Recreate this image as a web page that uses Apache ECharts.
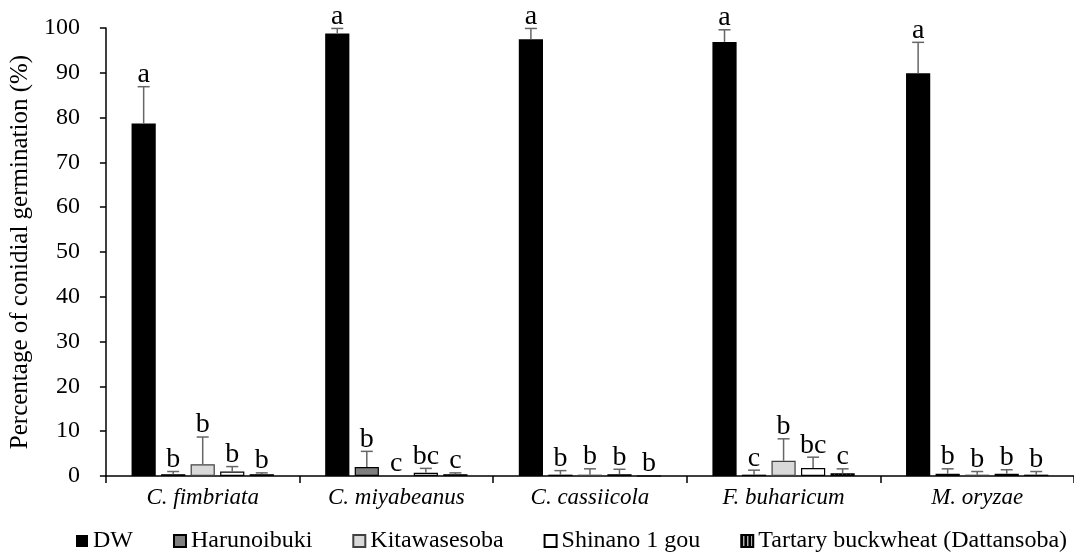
<!DOCTYPE html>
<html>
<head>
<meta charset="utf-8">
<script src="https://cdn.jsdelivr.net/npm/echarts@6/dist/echarts.min.js"></script>
<style>html,body{margin:0;padding:0;background:#fff;}#c{width:1074px;height:556px;}</style>
</head>
<body>
<div id="c"></div>
<script>
const categories = ['C. fimbriata', 'C. miyabeanus', 'C. cassiicola', 'F. buharicum', 'M. oryzae'];
const seriesNames = ['DW', 'Harunoibuki', 'Kitawasesoba', 'Shinano 1 gou', 'Tartary buckwheat (Dattansoba)'];
const yTicks = [0, 10, 20, 30, 40, 50, 60, 70, 80, 90, 100];

const dwValues = [78.7, 98.8, 97.5, 96.9, 89.9];
const dwErrors = [8.2, 1.1, 2.4, 2.7, 6.9];
const dwLetters = ['a', 'a', 'a', 'a', 'a'];

const harunoibukiValues = [0.4, 2.0, 0.3, 0.3, 0.5];
const harunoibukiErrors = [0.6, 3.5, 0.9, 1.0, 1.1];
const harunoibukiLetters = ['b', 'b', 'b', 'c', 'b'];

const kitawasesobaValues = [2.6, 0, 0.3, 3.4, 0.3];
const kitawasesobaErrors = [6.1, 0, 1.3, 4.9, 0.7];
const kitawasesobaLetters = ['b', 'c', 'b', 'b', 'b'];

const shinanoValues = [1.0, 0.7, 0.4, 1.8, 0.5];
const shinanoErrors = [1.1, 1.0, 1.1, 2.4, 0.9];
const shinanoLetters = ['b', 'bc', 'b', 'bc', 'b'];

const tartaryValues = [0.4, 0.4, 0, 0.6, 0.3];
const tartaryErrors = [0.3, 0.3, 0, 1.0, 0.7];
const tartaryLetters = ['b', 'c', 'b', 'c', 'b'];

const allValues = [dwValues, harunoibukiValues, kitawasesobaValues, shinanoValues, tartaryValues];
const allErrors = [dwErrors, harunoibukiErrors, kitawasesobaErrors, shinanoErrors, tartaryErrors];
const allLetters = [dwLetters, harunoibukiLetters, kitawasesobaLetters, shinanoLetters, tartaryLetters];

// stripe pattern for tartary buckwheat
const pc = document.createElement('canvas');
pc.width = 4; pc.height = 4;
const pctx = pc.getContext('2d');
pctx.fillStyle = '#000'; pctx.fillRect(0, 0, 4, 4);
pctx.fillStyle = '#fff'; pctx.fillRect(2, 0, 1, 4);
const stripe = { image: pc, repeat: 'repeat' };

const fills = ['#000000', '#7f7f7f', '#d9d9d9', '#ffffff', stripe];
const borders = ['#000000', '#000000', '#404040', '#000000', '#000000'];

const FONT = '"Liberation Serif", "Times New Roman", serif';
const BAR_FRAC = 0.125;
const GAP_FRAC = 0.22;

const barSeries = seriesNames.map((name, k) => ({
  name: name,
  type: 'bar',
  data: allValues[k],
  barWidth: (BAR_FRAC * 100) + '%',
  barGap: (GAP_FRAC * 100) + '%',
  itemStyle: { color: fills[k], borderColor: borders[k], borderWidth: k === 0 ? 0 : 1.2 },
  emphasis: { disabled: true }
}));

const errData = [];
for (let k = 0; k < 5; k++) {
  for (let i = 0; i < categories.length; i++) {
    errData.push([i, k, allValues[k][i], allErrors[k][i], allLetters[k][i]]);
  }
}

const errSeries = {
  type: 'custom',
  clip: false,
  silent: true,
  z: 10,
  encode: { x: 0, y: 2 },
  data: errData,
  renderItem: function (params, api) {
    const cat = api.value(0), k = api.value(1), mean = api.value(2), err = api.value(3);
    const letter = errData[params.dataIndex][4];
    const band = api.size([1, 0])[0];
    const bw = band * BAR_FRAC, gap = bw * GAP_FRAC;
    const total = 5 * bw + 4 * gap;
    const c = api.coord([cat, mean]);
    const x = c[0] - total / 2 + k * (bw + gap) + bw / 2;
    const yTop = api.coord([cat, mean + err])[1];
    const yBase = c[1];
    const cap = 6;
    const children = [];
    if (err > 0) {
      children.push({ type: 'line', shape: { x1: x, y1: yBase, x2: x, y2: yTop }, style: { stroke: '#666666', lineWidth: 1.5 } });
      children.push({ type: 'line', shape: { x1: x - cap, y1: yTop, x2: x + cap, y2: yTop }, style: { stroke: '#666666', lineWidth: 1.5 } });
    }
    children.push({
      type: 'text',
      style: { text: letter, x: x, y: yTop + 2, textAlign: 'center', textVerticalAlign: 'bottom', font: '28px ' + FONT, fill: '#000' }
    });
    return { type: 'group', children: children };
  }
};

const chart = echarts.init(document.getElementById('c'));
chart.setOption({
  animation: false,
  backgroundColor: '#ffffff',
  grid: { left: 102, right: -7, top: 28, bottom: 80, containLabel: false },
  legend: {
    data: seriesNames,
    top: 524,
    left: 71,
    icon: 'rect',
    itemWidth: 12,
    itemHeight: 12,
    itemGap: 40,
    textStyle: { fontFamily: FONT, fontSize: 24, color: '#000' },
    selectedMode: false
  },
  xAxis: {
    type: 'category',
    data: categories,
    axisLine: { lineStyle: { color: '#000', width: 1.5 } },
    axisTick: { show: true, length: 7, lineStyle: { color: '#000', width: 1.5 } },
    axisLabel: { fontFamily: FONT, fontSize: 23, fontStyle: 'italic', color: '#000', margin: 10 }
  },
  yAxis: {
    type: 'value',
    min: 0,
    max: 100,
    interval: 10,
    name: 'Percentage of conidial germination (%)',
    nameLocation: 'middle',
    nameGap: 69,
    nameTextStyle: { fontFamily: FONT, fontSize: 25, color: '#000' },
    axisLine: { show: true, lineStyle: { color: '#000', width: 1.5 } },
    axisTick: { show: true, length: 6, lineStyle: { color: '#000', width: 1.5 } },
    splitLine: { show: false },
    axisLabel: {
      fontFamily: FONT, fontSize: 24, color: '#000', margin: 26,
      formatter: function (v) { return yTicks.indexOf(v) >= 0 ? String(v) : ''; }
    }
  },
  series: barSeries.concat([errSeries])
});
</script>
</body>
</html>
